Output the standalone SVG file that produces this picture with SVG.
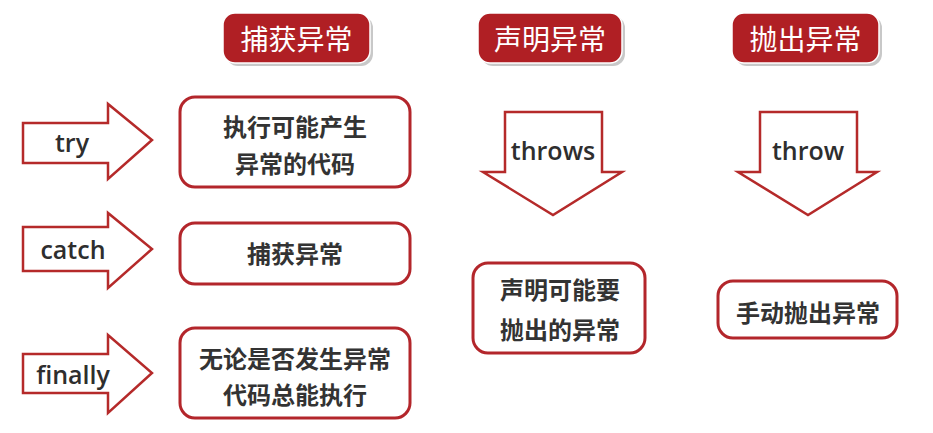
<svg xmlns="http://www.w3.org/2000/svg" width="933" height="433" viewBox="0 0 933 433">
<style>
.hdr-sh{fill:#c8c8c8;}
.hdr{fill:#b01f24;stroke:#ffffff;stroke-width:1.5;}
.hdr-t{font-family:"Noto Sans CJK SC","Noto Sans",sans-serif;font-size:28px;fill:#ffffff;text-anchor:middle;dominant-baseline:central;font-weight:400;}
.arrow{fill:#ffffff;stroke:#b52a2a;stroke-width:2.5;stroke-linejoin:miter;}
.kw{font-family:"Open Sans","Noto Sans",sans-serif;font-size:25px;fill:#2e2e2e;text-anchor:middle;dominant-baseline:central;font-weight:600;}
.box{fill:#ffffff;stroke:#b3262b;stroke-width:3;}
.bt{font-family:"Noto Sans CJK SC",sans-serif;font-size:24px;fill:#333333;text-anchor:middle;dominant-baseline:central;font-weight:700;}
</style>
<rect width="933" height="433" fill="#ffffff"/>

<g id="hdr-catch">
<rect class="hdr-sh" x="226" y="16" width="147" height="50" rx="12"/>
<rect class="hdr" x="223" y="13" width="147" height="50" rx="12"/>
<text class="hdr-t" x="296.5" y="38">捕获异常</text>
</g>
<g id="hdr-declare">
<rect class="hdr-sh" x="481" y="16" width="144" height="50" rx="12"/>
<rect class="hdr" x="478" y="13" width="144" height="50" rx="12"/>
<text class="hdr-t" x="550" y="38">声明异常</text>
</g>
<g id="hdr-throw">
<rect class="hdr-sh" x="735" y="16" width="147" height="50" rx="12"/>
<rect class="hdr" x="732" y="13" width="147" height="50" rx="12"/>
<text class="hdr-t" x="805.5" y="38">抛出异常</text>
</g>

<g id="connectors">
<g id="arrow-try">
<polygon class="arrow" points="23,123 108,123 108,104 152,140 108,179 108,163 23,163"/>
<text class="kw" x="72" y="142">try</text>
</g>
<g id="arrow-catch">
<polygon class="arrow" points="23,227 108,227 108,213 152,249 108,288 108,271 23,271"/>
<text class="kw" x="73" y="249">catch</text>
</g>
<g id="arrow-finally">
<polygon class="arrow" points="23,354 108,354 108,335 152,373 108,413 108,393 23,393"/>
<text class="kw" x="73" y="374">finally</text>
</g>
<g id="arrow-throws">
<polygon class="arrow" points="505,112 602,112 602,172 622,172 553,215 483,172 505,172"/>
<text class="kw" x="553" y="150">throws</text>
</g>
<g id="arrow-throw">
<polygon class="arrow" points="760,112 857,112 857,172 877,172 808,215 738,172 760,172"/>
<text class="kw" x="808" y="150">throw</text>
</g>
</g>

<g id="box-try">
<rect class="box" x="180" y="97" width="230" height="90" rx="15"/>
<text class="bt" x="295" y="125">执行可能产生</text>
<text class="bt" x="295" y="162">异常的代码</text>
</g>
<g id="box-catch">
<rect class="box" x="180" y="223" width="230" height="61" rx="15"/>
<text class="bt" x="295" y="252">捕获异常</text>
</g>
<g id="box-finally">
<rect class="box" x="180" y="328" width="230" height="90" rx="15"/>
<text class="bt" x="295" y="357">无论是否发生异常</text>
<text class="bt" x="295" y="393">代码总能执行</text>
</g>
<g id="box-throws">
<rect class="box" x="473" y="263" width="172" height="90" rx="15"/>
<text class="bt" x="560" y="288">声明可能要</text>
<text class="bt" x="560" y="328">抛出的异常</text>
</g>
<g id="box-throw">
<rect class="box" x="718" y="281" width="179" height="57" rx="15"/>
<text class="bt" x="808" y="311">手动抛出异常</text>
</g>
</svg>
